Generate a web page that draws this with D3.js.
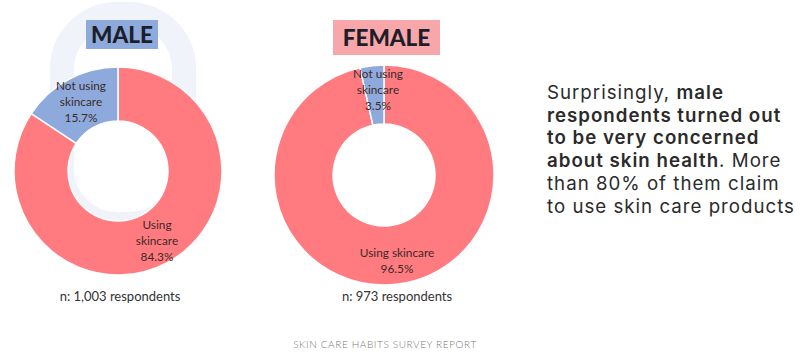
<!DOCTYPE html>
<html>
<head>
<meta charset="utf-8">
<script src="https://cdn.jsdelivr.net/npm/d3@7"></script>
<style>
  html, body { margin: 0; padding: 0; background: #fff; }
  svg { display: block; }
  text { font-family: Lato, "Open Sans", sans-serif; }
</style>
</head>
<body>
<svg id="chart" width="800" height="358"></svg>
<script>
// Survey shares per group
const groups = ["MALE", "FEMALE"];
const categories = ["Using skincare", "Not using skincare"];
const maleValues = [84.3, 15.7];
const femaleValues = [96.5, 3.5];
const respondents = ["n: 1,003 respondents", "n: 973 respondents"];

const svg = d3.select("#chart");

// faint brand mark behind the charts
svg.append("rect").attr("x", 62).attr("y", 14).attr("width", 122).attr("height", 210)
  .attr("rx", 55).attr("fill", "none").attr("stroke", "#f0f3f9").attr("stroke-width", 24);

const colour = d3.scaleOrdinal().domain(categories).range(["#ff7b80", "#8eaadc"]);

const pie = d3.pie().sort(null).value(d => d.value);

const donuts = [
  { name: groups[0], values: maleValues, cx: 118, cy: 171, r: 104, ir: 50,
    box: { x: 86, y: 20, w: 72, h: 29, fill: "#8eaadc" }, n: respondents[0], nx: 120,
    labels: [ { lines: ["Using", "skincare", "84.3%"], x: 157, y: 229 },
              { lines: ["Not using", "skincare", "15.7%"], x: 81, y: 90 } ] },
  { name: groups[1], values: femaleValues, cx: 384, cy: 175, r: 110, ir: 51,
    box: { x: 333, y: 20, w: 107, h: 35, fill: "#f7a7aa" }, n: respondents[1], nx: 397,
    labels: [ { lines: ["Using skincare", "96.5%"], x: 397, y: 257 },
              { lines: ["Not using", "skincare", "3.5%"], x: 378, y: 78 } ] }
];

donuts.forEach(d => {
  const g = svg.append("g");
  // group title box
  g.append("rect").attr("x", d.box.x).attr("y", d.box.y)
    .attr("width", d.box.w).attr("height", d.box.h).attr("fill", d.box.fill);
  g.append("text").attr("x", d.box.x + d.box.w / 2).attr("y", d.box.y + d.box.h / 2 + 8)
    .attr("text-anchor", "middle").attr("font-size", 22.5).attr("font-weight", 900)
    .attr("fill", "#1e1e2a").text(d.name);

  const arcs = pie(categories.map((c, i) => ({ cat: c, value: d.values[i] })));
  const arc = d3.arc().innerRadius(d.ir).outerRadius(d.r);
  g.append("g").attr("transform", `translate(${d.cx},${d.cy})`)
    .selectAll("path").data(arcs).join("path")
    .attr("d", arc).attr("fill", a => colour(a.data.cat))
    .attr("stroke", "#fff").attr("stroke-width", 1.5);

  d.labels.forEach(l => {
    const t = g.append("text").attr("text-anchor", "middle")
      .attr("font-size", 11.8).attr("fill", "#3a2a2a");
    l.lines.forEach((s, i) => {
      t.append("tspan").attr("x", l.x).attr("y", l.y + i * 16).text(s);
    });
  });

  g.append("text").attr("x", d.nx).attr("y", 301)
    .attr("text-anchor", "middle").attr("font-size", 13).attr("fill", "#333").text(d.n);
});

// commentary, one text element per line
const notes = [
  [["Surprisingly, ", 400], ["male", 700]],
  [["respondents turned out", 700]],
  [["to be very concerned", 700]],
  [["about skin health", 700], [". More", 400]],
  [["than 80% of them claim", 400]],
  [["to use skin care products", 400]]
];
notes.forEach((line, i) => {
  const t = svg.append("text").attr("x", 547).attr("y", 99 + i * 22.7)
    .attr("font-size", 18.7).attr("fill", "#2b2b2b").attr("letter-spacing", 1)
    .style("font-family", "Inter, sans-serif");
  line.forEach(([s, w]) => t.append("tspan").attr("font-weight", w === 700 ? 600 : 400).text(s));
});

svg.append("text").attr("x", 385).attr("y", 348).attr("text-anchor", "middle")
  .attr("font-size", 10).attr("fill", "#777").attr("letter-spacing", 0.6)
  .attr("font-weight", 300)
  .text("SKIN CARE HABITS SURVEY REPORT");
</script>
</body>
</html>
